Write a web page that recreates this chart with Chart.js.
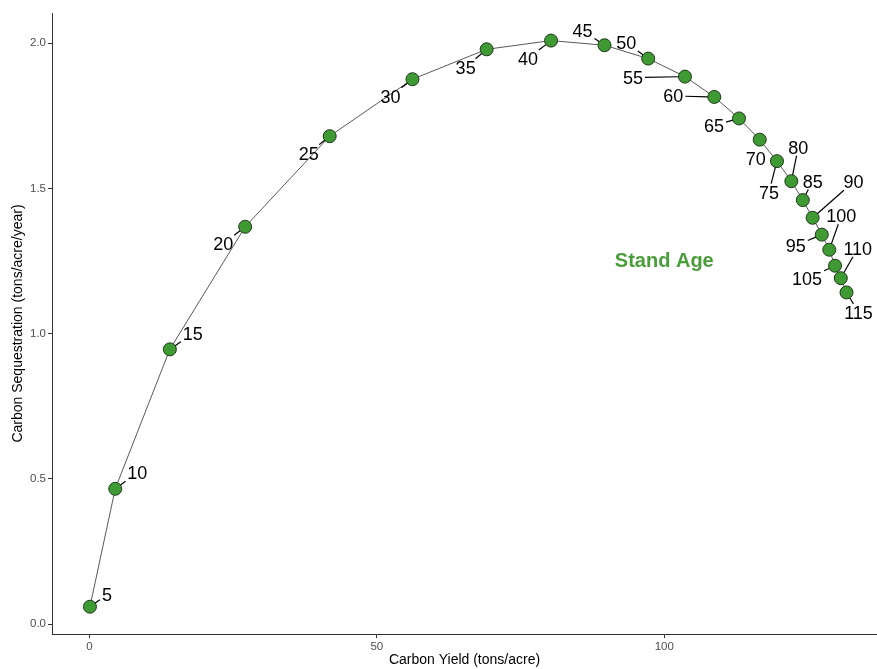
<!DOCTYPE html>
<html>
<head>
<meta charset="utf-8">
<script src="https://cdn.jsdelivr.net/npm/chart.js@4/dist/chart.umd.min.js"></script>
<style>
  html, body { margin: 0; padding: 0; background: #fff; overflow: hidden; }
  #wrap { position: relative; width: 877px; height: 669px; }
</style>
</head>
<body>
<div id="wrap"><canvas id="myChart"></canvas></div>
<script>
(function () {
  'use strict';

  // stand age (years), carbon yield (tons/acre), carbon sequestration (tons/acre/year)
  var standAge = [5, 10, 15, 20, 25, 30, 35, 40, 45, 50, 55, 60,
    65, 70, 75, 80, 85, 90, 95, 100, 105, 110, 115];
  var carbonYield = [0.1, 4.5, 14.0, 27.1, 41.8, 56.2, 69.1, 80.3, 89.6, 97.2, 103.6, 108.7,
    113.0, 116.6, 119.6, 122.1, 124.1, 125.8, 127.4, 128.7, 129.7, 130.7, 131.7];
  var sequestration = [0.060, 0.466, 0.946, 1.368, 1.680, 1.876, 1.979, 2.009, 1.993, 1.947, 1.885, 1.815,
    1.741, 1.668, 1.594, 1.525, 1.460, 1.399, 1.341, 1.289, 1.234, 1.191, 1.142];
  var xTicks = [0, 50, 100];
  var yTicks = [0.0, 0.5, 1.0, 1.5, 2.0];

  // label placement (pixel offset of text centre from its point), repel-style
  var labelOffsets = {
    5: [17, -12], 10: [22, -16], 15: [23, -16], 20: [-22, 17], 25: [-21, 17],
    30: [-22, 17], 35: [-21, 18], 40: [-23, 18], 45: [-22, -15], 50: [-22, -16],
    55: [-52, 1], 60: [-41, -1], 65: [-25, 7], 70: [-4, 19], 75: [-8, 31],
    80: [7, -34], 85: [10, -19], 90: [41, -36], 95: [-26, 11], 100: [12, -34],
    105: [-28, 13], 110: [17, -30], 115: [12, 20]
  };
  var noLeader = [70];

  var points = carbonYield.map(function (x, i) {
    return { x: x, y: sequestration[i] };
  });

  var ageLabels = {
    id: 'ageLabels',
    afterDatasetsDraw: function (chart) {
      var ctx = chart.ctx;
      var meta = chart.getDatasetMeta(0);
      var r = 6.5;
      var capH = 13;
      ctx.save();
      ctx.font = '18px "Liberation Sans", Arial, sans-serif';
      ctx.textAlign = 'center';
      ctx.textBaseline = 'alphabetic';
      meta.data.forEach(function (el, i) {
        var age = standAge[i];
        var off = labelOffsets[age] || [15, -15];
        var cx = el.x + off[0];
        var cy = el.y + off[1];
        var w = ctx.measureText(String(age)).width;
        var hw = w / 2 + 2, hh = capH / 2 + 2;
        var len = Math.sqrt(off[0] * off[0] + off[1] * off[1]);
        var ux = off[0] / len, uy = off[1] / len;
        // segment aims at the label centre, clipped at the point and the label box
        var tb = Math.min(Math.abs(ux) > 1e-6 ? hw / Math.abs(ux) : 1e9,
                          Math.abs(uy) > 1e-6 ? hh / Math.abs(uy) : 1e9);
        var seg = len - r - tb;
        if (noLeader.indexOf(age) < 0 && seg > 3) {
          ctx.strokeStyle = '#000';
          ctx.lineWidth = 1.2;
          ctx.beginPath();
          ctx.moveTo(el.x + ux * r, el.y + uy * r);
          ctx.lineTo(cx - ux * tb, cy - uy * tb);
          ctx.stroke();
        }
        ctx.fillStyle = '#000';
        ctx.fillText(String(age), cx, cy + capH / 2);
      });

      // annotation
      var sx = chart.scales.x.getPixelForValue(100);
      var sy = chart.scales.y.getPixelForValue(1.25);
      ctx.font = 'bold 20px "Liberation Sans", Arial, sans-serif';
      ctx.fillStyle = '#4a9e3a';
      ctx.textBaseline = 'middle';
      ctx.fillText('Stand Age', sx, sy);
      ctx.restore();
    }
  };

  var ctx = document.getElementById('myChart').getContext('2d');
  var myChart = new Chart(ctx, {
    type: 'scatter',
    data: {
      datasets: [{
        data: points,
        showLine: true,
        borderColor: '#595959',
        borderWidth: 1,
        pointRadius: 6.5,
        pointBackgroundColor: '#3f9a34',
        pointBorderColor: '#1f3a1a',
        pointBorderWidth: 1,
        clip: false
      }]
    },
    options: {
      responsive: true,
      maintainAspectRatio: false,
      animation: false,
      layout: {
        autoPadding: false,
        padding: { top: 13, right: 0, bottom: 0, left: 0 }
      },
      plugins: {
        legend: { display: false },
        tooltip: { enabled: false }
      },
      scales: {
        x: {
          type: 'linear',
          min: -6.5,
          max: 137.0,
          afterFit: function (s) {
            s.height = 35;
            s.paddingLeft = 0;
            s.paddingRight = 0;
          },
          afterBuildTicks: function (s) {
            s.ticks = xTicks.map(function (v) { return { value: v }; });
          },
          ticks: {
            color: '#4d4d4d',
            font: { family: '"Liberation Sans", Arial, sans-serif', size: 11.5 },
            padding: 2,
            maxRotation: 0,
            callback: function (v) { return String(v); }
          },
          grid: { drawOnChartArea: false, drawTicks: true, tickLength: 4, color: '#333' },
          border: { display: true, color: '#333', width: 1 },
          title: {
            display: true,
            text: 'Carbon Yield (tons/acre)',
            color: '#000',
            font: { family: '"Liberation Sans", Arial, sans-serif', size: 14 },
            padding: { top: 0, bottom: 0 }
          }
        },
        y: {
          type: 'linear',
          min: -0.034,
          max: 2.104,
          afterFit: function (s) {
            s.width = 52;
            s.paddingTop = 0;
            s.paddingBottom = 0;
          },
          afterBuildTicks: function (s) {
            s.ticks = yTicks.map(function (v) { return { value: v }; });
          },
          ticks: {
            color: '#4d4d4d',
            font: { family: '"Liberation Sans", Arial, sans-serif', size: 11.5 },
            padding: 2,
            callback: function (v) { return Number(v).toFixed(1); }
          },
          grid: { drawOnChartArea: false, drawTicks: true, tickLength: 4, color: '#333' },
          border: { display: true, color: '#333', width: 1 },
          title: {
            display: true,
            text: 'Carbon Sequestration (tons/acre/year)',
            color: '#000',
            font: { family: '"Liberation Sans", Arial, sans-serif', size: 14 },
            padding: { top: 10, bottom: 0 }
          }
        }
      }
    },
    plugins: [ageLabels]
  });
})();
</script>
</body>
</html>
